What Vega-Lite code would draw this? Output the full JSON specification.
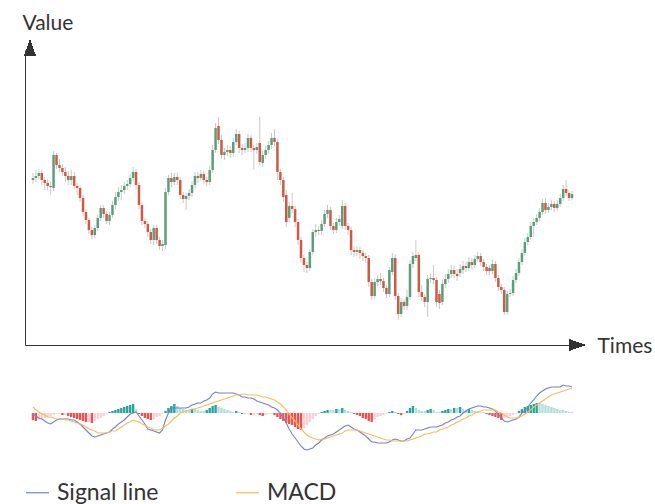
{
"$schema":"https://vega.github.io/schema/vega-lite/v6.json",
"width":655,"height":504,"padding":0,"autosize":{"type":"none"},
"config":{"view":{"stroke":null},"font":"Lato"},
"data":{"values":[
{"t":0,"o":165,"h":172,"l":161,"c":167,"signal":-1,"macd":6,"d":-7},
{"t":1,"o":167,"h":175,"l":163,"c":169,"signal":-3,"macd":3,"d":-8},
{"t":2,"o":169,"h":176,"l":166,"c":172,"signal":-5,"macd":1,"d":-7},
{"t":3,"o":172,"h":175,"l":160,"c":165,"signal":-6,"macd":-1,"d":-6},
{"t":4,"o":165,"h":168,"l":155,"c":162,"signal":-8,"macd":-2,"d":-5},
{"t":5,"o":162,"h":166,"l":155,"c":159,"signal":-10,"macd":-4,"d":-4},
{"t":6,"o":159,"h":163,"l":150,"c":158,"signal":-11,"macd":-4,"d":-3},
{"t":7,"o":157,"h":194,"l":154,"c":190,"signal":-9,"macd":-5,"d":-2},
{"t":8,"o":190,"h":192,"l":176,"c":180,"signal":-7,"macd":-6,"d":-1},
{"t":9,"o":180,"h":186,"l":173,"c":177,"signal":-6,"macd":-6,"d":-1},
{"t":10,"o":177,"h":181,"l":169,"c":173,"signal":-6,"macd":-6,"d":-2},
{"t":11,"o":173,"h":178,"l":163,"c":169,"signal":-6,"macd":-7,"d":-2},
{"t":12,"o":169,"h":174,"l":160,"c":165,"signal":-6,"macd":-7,"d":-3},
{"t":13,"o":165,"h":175,"l":160,"c":169,"signal":-7,"macd":-8,"d":-4},
{"t":14,"o":169,"h":173,"l":156,"c":159,"signal":-7,"macd":-9,"d":-5},
{"t":15,"o":159,"h":162,"l":150,"c":157,"signal":-9,"macd":-10,"d":-6},
{"t":16,"o":157,"h":160,"l":143,"c":147,"signal":-11,"macd":-11,"d":-7},
{"t":17,"o":147,"h":150,"l":129,"c":133,"signal":-14,"macd":-12,"d":-8},
{"t":18,"o":133,"h":136,"l":121,"c":125,"signal":-17,"macd":-14,"d":-9},
{"t":19,"o":125,"h":127,"l":111,"c":115,"signal":-20,"macd":-16,"d":-9},
{"t":20,"o":115,"h":118,"l":106,"c":110,"signal":-23,"macd":-17,"d":-10},
{"t":21,"o":110,"h":120,"l":107,"c":117,"signal":-24,"macd":-18,"d":-8},
{"t":22,"o":117,"h":130,"l":114,"c":127,"signal":-23,"macd":-20,"d":-6},
{"t":23,"o":127,"h":140,"l":124,"c":137,"signal":-22,"macd":-20,"d":-5},
{"t":24,"o":137,"h":140,"l":127,"c":131,"signal":-21,"macd":-20,"d":-3},
{"t":25,"o":131,"h":134,"l":121,"c":124,"signal":-20,"macd":-20,"d":-1},
{"t":26,"o":124,"h":133,"l":120,"c":130,"signal":-19,"macd":-19,"d":1},
{"t":27,"o":130,"h":144,"l":127,"c":140,"signal":-16,"macd":-18,"d":2},
{"t":28,"o":140,"h":153,"l":136,"c":148,"signal":-14,"macd":-18,"d":3},
{"t":29,"o":148,"h":158,"l":144,"c":153,"signal":-11,"macd":-16,"d":4},
{"t":30,"o":153,"h":160,"l":145,"c":155,"signal":-9,"macd":-14,"d":5},
{"t":31,"o":155,"h":163,"l":151,"c":159,"signal":-7,"macd":-12,"d":6},
{"t":32,"o":159,"h":165,"l":155,"c":161,"signal":-4,"macd":-10,"d":7},
{"t":33,"o":161,"h":171,"l":158,"c":167,"signal":-1,"macd":-9,"d":8},
{"t":34,"o":167,"h":178,"l":164,"c":173,"signal":0,"macd":-7,"d":9},
{"t":35,"o":173,"h":176,"l":156,"c":160,"signal":1,"macd":-8,"d":4},
{"t":36,"o":160,"h":163,"l":136,"c":140,"signal":-3,"macd":-9,"d":-1},
{"t":37,"o":140,"h":143,"l":120,"c":124,"signal":-7,"macd":-11,"d":-3},
{"t":38,"o":124,"h":127,"l":117,"c":121,"signal":-11,"macd":-12,"d":-5},
{"t":39,"o":121,"h":124,"l":108,"c":113,"signal":-16,"macd":-14,"d":-6},
{"t":40,"o":113,"h":116,"l":101,"c":105,"signal":-17,"macd":-15,"d":-7},
{"t":41,"o":105,"h":120,"l":100,"c":117,"signal":-18,"macd":-17,"d":-6},
{"t":42,"o":117,"h":120,"l":101,"c":105,"signal":-19,"macd":-17,"d":-4},
{"t":43,"o":105,"h":108,"l":95,"c":99,"signal":-20,"macd":-17,"d":-3},
{"t":44,"o":99,"h":105,"l":94,"c":101,"signal":-17,"macd":-15,"d":-1},
{"t":45,"o":100,"h":157,"l":96,"c":153,"signal":-7,"macd":-13,"d":2},
{"t":46,"o":153,"h":170,"l":150,"c":167,"signal":0,"macd":-11,"d":5},
{"t":47,"o":167,"h":172,"l":158,"c":163,"signal":5,"macd":-8,"d":7},
{"t":48,"o":163,"h":172,"l":160,"c":168,"signal":5,"macd":-5,"d":9},
{"t":49,"o":168,"h":172,"l":160,"c":165,"signal":5,"macd":-3,"d":7},
{"t":50,"o":165,"h":168,"l":146,"c":150,"signal":5,"macd":0,"d":5},
{"t":51,"o":150,"h":153,"l":142,"c":146,"signal":5,"macd":1,"d":4},
{"t":52,"o":146,"h":152,"l":135,"c":149,"signal":5,"macd":2,"d":3},
{"t":53,"o":149,"h":156,"l":145,"c":152,"signal":6,"macd":3,"d":3},
{"t":54,"o":152,"h":164,"l":148,"c":160,"signal":8,"macd":4,"d":4},
{"t":55,"o":160,"h":173,"l":156,"c":169,"signal":9,"macd":4,"d":4},
{"t":56,"o":169,"h":173,"l":162,"c":167,"signal":10,"macd":5,"d":3},
{"t":57,"o":167,"h":175,"l":164,"c":171,"signal":10,"macd":6,"d":2},
{"t":58,"o":171,"h":174,"l":161,"c":165,"signal":12,"macd":7,"d":2},
{"t":59,"o":165,"h":168,"l":159,"c":163,"signal":13,"macd":8,"d":3},
{"t":60,"o":163,"h":179,"l":160,"c":175,"signal":15,"macd":9,"d":5},
{"t":61,"o":175,"h":200,"l":172,"c":195,"signal":19,"macd":10,"d":7},
{"t":62,"o":195,"h":222,"l":192,"c":217,"signal":21,"macd":11,"d":8},
{"t":63,"o":219,"h":228,"l":201,"c":205,"signal":20,"macd":12,"d":6},
{"t":64,"o":205,"h":210,"l":186,"c":190,"signal":20,"macd":13,"d":5},
{"t":65,"o":190,"h":197,"l":185,"c":193,"signal":20,"macd":14,"d":4},
{"t":66,"o":193,"h":200,"l":189,"c":195,"signal":20,"macd":15,"d":3},
{"t":67,"o":195,"h":199,"l":187,"c":192,"signal":20,"macd":16,"d":2},
{"t":68,"o":192,"h":207,"l":188,"c":203,"signal":20,"macd":17,"d":1},
{"t":69,"o":203,"h":216,"l":200,"c":211,"signal":19,"macd":18,"d":2},
{"t":70,"o":211,"h":214,"l":192,"c":197,"signal":18,"macd":18,"d":1},
{"t":71,"o":197,"h":201,"l":190,"c":195,"signal":16,"macd":19,"d":-1},
{"t":72,"o":195,"h":202,"l":192,"c":197,"signal":16,"macd":19,"d":-1},
{"t":73,"o":197,"h":211,"l":193,"c":207,"signal":15,"macd":18,"d":-1},
{"t":74,"o":207,"h":210,"l":193,"c":197,"signal":15,"macd":18,"d":-2},
{"t":75,"o":197,"h":200,"l":175,"c":195,"signal":14,"macd":18,"d":-2},
{"t":76,"o":195,"h":202,"l":191,"c":198,"signal":12,"macd":18,"d":-1},
{"t":77,"o":202,"h":228,"l":180,"c":183,"signal":11,"macd":17,"d":-2},
{"t":78,"o":182,"h":194,"l":178,"c":190,"signal":10,"macd":16,"d":-3},
{"t":79,"o":190,"h":199,"l":186,"c":195,"signal":9,"macd":16,"d":-2},
{"t":80,"o":195,"h":204,"l":191,"c":200,"signal":8,"macd":15,"d":-1},
{"t":81,"o":200,"h":212,"l":196,"c":207,"signal":6,"macd":14,"d":-1},
{"t":82,"o":207,"h":216,"l":199,"c":203,"signal":5,"macd":13,"d":-2},
{"t":83,"o":203,"h":206,"l":165,"c":173,"signal":3,"macd":11,"d":-4},
{"t":84,"o":173,"h":176,"l":160,"c":165,"signal":0,"macd":9,"d":-6},
{"t":85,"o":165,"h":168,"l":143,"c":148,"signal":-5,"macd":6,"d":-8},
{"t":86,"o":150,"h":155,"l":118,"c":123,"signal":-10,"macd":3,"d":-10},
{"t":87,"o":127,"h":143,"l":123,"c":139,"signal":-16,"macd":-1,"d":-11},
{"t":88,"o":139,"h":152,"l":132,"c":136,"signal":-21,"macd":-5,"d":-12},
{"t":89,"o":136,"h":139,"l":118,"c":123,"signal":-25,"macd":-8,"d":-14},
{"t":90,"o":123,"h":126,"l":100,"c":105,"signal":-29,"macd":-12,"d":-16},
{"t":91,"o":105,"h":108,"l":82,"c":87,"signal":-33,"macd":-16,"d":-17},
{"t":92,"o":87,"h":90,"l":73,"c":80,"signal":-36,"macd":-19,"d":-15},
{"t":93,"o":80,"h":83,"l":72,"c":77,"signal":-37,"macd":-22,"d":-12},
{"t":94,"o":77,"h":96,"l":74,"c":93,"signal":-36,"macd":-24,"d":-9},
{"t":95,"o":93,"h":116,"l":90,"c":113,"signal":-35,"macd":-25,"d":-6},
{"t":96,"o":113,"h":121,"l":108,"c":115,"signal":-32,"macd":-26,"d":-3},
{"t":97,"o":115,"h":119,"l":110,"c":114,"signal":-30,"macd":-27,"d":-1},
{"t":98,"o":114,"h":125,"l":110,"c":121,"signal":-27,"macd":-26,"d":1},
{"t":99,"o":121,"h":135,"l":118,"c":131,"signal":-25,"macd":-26,"d":2},
{"t":100,"o":131,"h":140,"l":127,"c":135,"signal":-23,"macd":-25,"d":3},
{"t":101,"o":135,"h":138,"l":115,"c":119,"signal":-22,"macd":-24,"d":3},
{"t":102,"o":119,"h":122,"l":111,"c":115,"signal":-21,"macd":-23,"d":3},
{"t":103,"o":115,"h":127,"l":112,"c":123,"signal":-19,"macd":-22,"d":4},
{"t":104,"o":123,"h":130,"l":119,"c":126,"signal":-17,"macd":-21,"d":4},
{"t":105,"o":119,"h":145,"l":116,"c":139,"signal":-15,"macd":-20,"d":5},
{"t":106,"o":139,"h":142,"l":115,"c":119,"signal":-13,"macd":-18,"d":3},
{"t":107,"o":119,"h":122,"l":110,"c":115,"signal":-12,"macd":-17,"d":2},
{"t":108,"o":115,"h":118,"l":90,"c":95,"signal":-14,"macd":-17,"d":1},
{"t":109,"o":95,"h":99,"l":88,"c":93,"signal":-16,"macd":-17,"d":-1},
{"t":110,"o":93,"h":99,"l":89,"c":95,"signal":-17,"macd":-17,"d":-2},
{"t":111,"o":95,"h":98,"l":86,"c":92,"signal":-19,"macd":-18,"d":-3},
{"t":112,"o":92,"h":95,"l":84,"c":89,"signal":-21,"macd":-19,"d":-5},
{"t":113,"o":89,"h":92,"l":82,"c":87,"signal":-23,"macd":-20,"d":-6},
{"t":114,"o":87,"h":90,"l":58,"c":63,"signal":-26,"macd":-21,"d":-8},
{"t":115,"o":63,"h":66,"l":45,"c":49,"signal":-29,"macd":-22,"d":-9},
{"t":116,"o":49,"h":67,"l":46,"c":63,"signal":-29,"macd":-23,"d":-6},
{"t":117,"o":63,"h":70,"l":59,"c":66,"signal":-30,"macd":-24,"d":-4},
{"t":118,"o":66,"h":72,"l":60,"c":64,"signal":-30,"macd":-25,"d":-3},
{"t":119,"o":64,"h":67,"l":53,"c":57,"signal":-30,"macd":-26,"d":-2},
{"t":120,"o":57,"h":60,"l":47,"c":51,"signal":-30,"macd":-27,"d":-1},
{"t":121,"o":51,"h":78,"l":48,"c":75,"signal":-29,"macd":-27,"d":1},
{"t":122,"o":73,"h":92,"l":70,"c":87,"signal":-27,"macd":-28,"d":2},
{"t":123,"o":87,"h":91,"l":45,"c":49,"signal":-26,"macd":-28,"d":1},
{"t":124,"o":49,"h":52,"l":25,"c":31,"signal":-27,"macd":-28,"d":-1},
{"t":125,"o":31,"h":47,"l":28,"c":43,"signal":-28,"macd":-28,"d":-2},
{"t":126,"o":43,"h":46,"l":35,"c":39,"signal":-28,"macd":-28,"d":-1},
{"t":127,"o":39,"h":55,"l":35,"c":48,"signal":-26,"macd":-28,"d":2},
{"t":128,"o":48,"h":85,"l":45,"c":81,"signal":-25,"macd":-27,"d":5},
{"t":129,"o":81,"h":93,"l":77,"c":89,"signal":-21,"macd":-26,"d":7},
{"t":130,"o":87,"h":105,"l":84,"c":90,"signal":-17,"macd":-25,"d":5},
{"t":131,"o":90,"h":93,"l":48,"c":53,"signal":-17,"macd":-24,"d":3},
{"t":132,"o":53,"h":60,"l":44,"c":48,"signal":-17,"macd":-23,"d":2},
{"t":133,"o":48,"h":51,"l":38,"c":43,"signal":-16,"macd":-21,"d":2},
{"t":134,"o":43,"h":70,"l":28,"c":66,"signal":-15,"macd":-21,"d":3},
{"t":135,"o":66,"h":72,"l":62,"c":67,"signal":-14,"macd":-20,"d":4},
{"t":136,"o":67,"h":80,"l":61,"c":65,"signal":-14,"macd":-19,"d":3},
{"t":137,"o":65,"h":68,"l":38,"c":43,"signal":-14,"macd":-19,"d":1},
{"t":138,"o":51,"h":55,"l":36,"c":42,"signal":-13,"macd":-17,"d":1},
{"t":139,"o":43,"h":65,"l":40,"c":61,"signal":-12,"macd":-16,"d":2},
{"t":140,"o":61,"h":71,"l":57,"c":66,"signal":-10,"macd":-15,"d":3},
{"t":141,"o":66,"h":76,"l":62,"c":71,"signal":-9,"macd":-14,"d":4},
{"t":142,"o":71,"h":80,"l":67,"c":75,"signal":-7,"macd":-12,"d":4},
{"t":143,"o":75,"h":79,"l":67,"c":71,"signal":-6,"macd":-11,"d":5},
{"t":144,"o":71,"h":76,"l":64,"c":69,"signal":-4,"macd":-9,"d":5},
{"t":145,"o":72,"h":81,"l":68,"c":76,"signal":-3,"macd":-8,"d":6},
{"t":146,"o":75,"h":84,"l":71,"c":79,"signal":0,"macd":-6,"d":4},
{"t":147,"o":79,"h":83,"l":73,"c":77,"signal":2,"macd":-5,"d":3},
{"t":148,"o":77,"h":88,"l":74,"c":83,"signal":4,"macd":-3,"d":4},
{"t":149,"o":83,"h":87,"l":76,"c":80,"signal":5,"macd":-2,"d":3},
{"t":150,"o":80,"h":90,"l":77,"c":86,"signal":6,"macd":0,"d":2},
{"t":151,"o":86,"h":93,"l":83,"c":89,"signal":7,"macd":1,"d":2},
{"t":152,"o":89,"h":92,"l":79,"c":83,"signal":7,"macd":2,"d":1},
{"t":153,"o":83,"h":86,"l":74,"c":78,"signal":6,"macd":3,"d":1},
{"t":154,"o":78,"h":81,"l":70,"c":74,"signal":6,"macd":3,"d":-1},
{"t":155,"o":77,"h":80,"l":70,"c":74,"signal":5,"macd":3,"d":-2},
{"t":156,"o":74,"h":85,"l":71,"c":81,"signal":4,"macd":3,"d":-3},
{"t":157,"o":81,"h":84,"l":63,"c":67,"signal":2,"macd":3,"d":-4},
{"t":158,"o":67,"h":70,"l":54,"c":58,"signal":-1,"macd":1,"d":-5},
{"t":159,"o":58,"h":61,"l":51,"c":55,"signal":-5,"macd":0,"d":-7},
{"t":160,"o":55,"h":58,"l":30,"c":33,"signal":-8,"macd":-2,"d":-5},
{"t":161,"o":33,"h":54,"l":30,"c":51,"signal":-9,"macd":-4,"d":-4},
{"t":162,"o":51,"h":56,"l":48,"c":52,"signal":-8,"macd":-5,"d":-3},
{"t":163,"o":52,"h":69,"l":49,"c":65,"signal":-7,"macd":-5,"d":-2},
{"t":164,"o":65,"h":76,"l":62,"c":72,"signal":-6,"macd":-5,"d":-1},
{"t":165,"o":72,"h":87,"l":69,"c":83,"signal":-4,"macd":-4,"d":2},
{"t":166,"o":83,"h":96,"l":80,"c":92,"signal":0,"macd":-3,"d":4},
{"t":167,"o":92,"h":107,"l":89,"c":103,"signal":2,"macd":-1,"d":6},
{"t":168,"o":103,"h":112,"l":100,"c":108,"signal":6,"macd":1,"d":7},
{"t":169,"o":108,"h":123,"l":105,"c":119,"signal":10,"macd":3,"d":8},
{"t":170,"o":119,"h":127,"l":108,"c":123,"signal":13,"macd":6,"d":9},
{"t":171,"o":123,"h":131,"l":120,"c":127,"signal":17,"macd":8,"d":10},
{"t":172,"o":127,"h":137,"l":124,"c":133,"signal":20,"macd":10,"d":10},
{"t":173,"o":133,"h":146,"l":130,"c":142,"signal":22,"macd":12,"d":9},
{"t":174,"o":142,"h":147,"l":131,"c":135,"signal":24,"macd":14,"d":8},
{"t":175,"o":135,"h":142,"l":132,"c":138,"signal":25,"macd":16,"d":7},
{"t":176,"o":138,"h":145,"l":135,"c":141,"signal":26,"macd":18,"d":6},
{"t":177,"o":141,"h":144,"l":133,"c":137,"signal":26,"macd":19,"d":5},
{"t":178,"o":137,"h":145,"l":134,"c":141,"signal":26,"macd":20,"d":4},
{"t":179,"o":141,"h":151,"l":138,"c":147,"signal":26,"macd":21,"d":3},
{"t":180,"o":147,"h":160,"l":144,"c":156,"signal":28,"macd":22,"d":3},
{"t":181,"o":156,"h":165,"l":149,"c":152,"signal":27,"macd":23,"d":2},
{"t":182,"o":152,"h":155,"l":144,"c":147,"signal":27,"macd":24,"d":1},
{"t":183,"o":147,"h":154,"l":145,"c":151,"signal":26,"macd":25,"d":1}
]},
"encoding":{
"x":{"field":"t","type":"quantitative","scale":{"domain":[-1,183],"range":[25,577],"nice":false,"zero":false},
"axis":{"orient":"bottom","offset":-159,"labels":false,"ticks":false,"grid":false,"domainColor":"#333333","domainWidth":1,"title":"Times","titleAlign":"left","titleBaseline":"alphabetic","titleX":597,"titleY":7,"titleFont":"Lato","titleFontSize":21,"titleFontWeight":"normal","titleColor":"#333333"}}
},
"layer":[
{"layer":[
{"mark":{"type":"rule","color":"#c9c9c9","strokeWidth":1},
"encoding":{
"y":{"field":"l","type":"quantitative","scale":{"domain":[0,295],"range":[345,50],"nice":false,"zero":false},
"axis":{"orient":"left","offset":-25,"labels":false,"ticks":false,"grid":false,"domainColor":"#333333","domainWidth":1,"title":"Value","titleAngle":0,"titleAlign":"left","titleBaseline":"alphabetic","titleX":-3,"titleY":29,"titleFont":"Lato","titleFontSize":21,"titleFontWeight":"normal","titleColor":"#333333"}},
"y2":{"field":"h"}}},
{"mark":{"type":"bar","width":2.5},
"encoding":{
"y":{"field":"o","type":"quantitative","scale":{"domain":[0,295],"range":[345,50],"nice":false,"zero":false}},
"y2":{"field":"c"},
"color":{"condition":{"test":"datum.c >= datum.o","value":"#5c9d7a"},"value":"#cf5a44"}}},
{"mark":{"type":"point","shape":"M0,-1L0.7,1L-0.7,1Z","filled":true,"color":"#333333","size":225,"opacity":1},
"encoding":{"x":{"datum":-1,"type":"quantitative"},"y":{"datum":297,"type":"quantitative","scale":{"domain":[0,295],"range":[345,50],"nice":false,"zero":false}}}},
{"mark":{"type":"point","shape":"M1,0L-1,-0.7L-1,0.7Z","filled":true,"color":"#333333","size":225,"opacity":1},
"encoding":{"x":{"datum":184.7,"type":"quantitative"},"y":{"datum":0,"type":"quantitative","scale":{"domain":[0,295],"range":[345,50],"nice":false,"zero":false}}}}
]},
{"layer":[
{"transform":[{"window":[{"op":"lag","field":"d","param":1,"as":"pd"}],"sort":[{"field":"t"}]}],
"mark":{"type":"bar","width":2.4},
"encoding":{
"y":{"field":"d","type":"quantitative","scale":{"domain":[-40,40],"range":[453,373],"nice":false,"zero":false},"axis":null},
"y2":{"datum":0},
"color":{"condition":[
{"test":"datum.d >= 0 && (datum.pd == null || datum.d > datum.pd)","value":"#26a69a"},
{"test":"datum.d >= 0","value":"#b2dfdb"},
{"test":"datum.pd == null || datum.d < datum.pd","value":"#ef5350"}],"value":"#ffcdd2"}}},
{"transform":[{"fold":["signal","macd"],"as":["series","val"]}],
"mark":{"type":"line","strokeWidth":1.1},
"encoding":{
"y":{"field":"val","type":"quantitative","scale":{"domain":[-40,40],"range":[453,373],"nice":false,"zero":false},"axis":null},
"color":{"field":"series","type":"nominal","scale":{"domain":["signal","macd"],"range":["#7380d3","#f4bf55"]},
"legend":{"orient":"none","legendX":25,"legendY":480,"direction":"horizontal","title":null,"symbolType":"stroke","symbolSize":529,"symbolStrokeWidth":1.2,"labelFont":"Lato","labelFontSize":23,"labelColor":"#333333","labelOffset":7,"columnPadding":74,"padding":0,"labelExpr":"datum.label == 'signal' ? 'Signal line' : 'MACD'"}}}}
]}
],
"resolve":{"scale":{"y":"independent"}}
}
